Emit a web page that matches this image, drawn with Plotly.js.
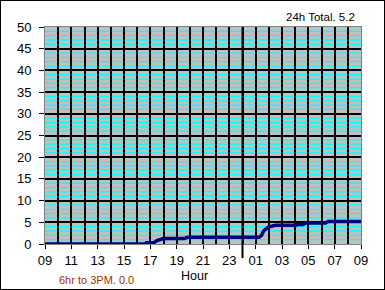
<!DOCTYPE html>
<html>
<head>
<meta charset="utf-8">
<script src="https://cdn.plot.ly/plotly-3.0.1.min.js"></script>
<style>
  html, body { margin: 0; padding: 0; background: #fff; }
  #chart { width: 383px; height: 288px; border: 1px solid #000; }
</style>
</head>
<body>
<div id="chart"></div>
<script>
// Hours since 09:00 and cumulative rainfall
var hours = [0, 7.6, 7.7, 8.3, 8.5, 8.8, 9.0, 10.6, 10.8, 16.25, 16.45, 16.6, 16.8, 16.95, 17.2, 17.5, 19.05, 19.2, 19.6, 19.8, 21.3, 21.5, 24];
var rain  = [0, 0, 0.3, 0.35, 0.8, 1.1, 1.25, 1.25, 1.55, 1.55, 2.0, 3.0, 3.5, 3.9, 4.1, 4.3, 4.3, 4.5, 4.5, 4.85, 4.85, 5.2, 5.2];

var tickHours  = [0, 2, 4, 6, 8, 10, 12, 14, 16, 18, 20, 22, 24];
var tickLabels = ["09", "11", "13", "15", "17", "19", "21", "23", "01", "03", "05", "07", "09"];
var midnightHour = 15;
var totalText = "24h Total. 5.2";
var sixHrText = "6hr to 3PM. 0.0";

var font = "Liberation Sans, Arial, sans-serif";

var shapes = [];
for (var v = 1; v < 50; v++) {
  if (v % 5 === 0) continue;
  shapes.push({type: 'line', layer: 'below', xref: 'paper', x0: 0, x1: 1, yref: 'y', y0: v, y1: v,
               line: {color: '#00FFFF', width: 1.3}});
}
shapes.push({type: 'line', layer: 'above', xref: 'x', x0: midnightHour, x1: midnightHour,
             yref: 'paper', y0: -0.065, y1: 1, line: {color: '#000', width: 2}});

var trace = {
  x: hours, y: rain, type: 'scatter', mode: 'lines',
  line: {color: '#000080', width: 3.5}, hoverinfo: 'skip'
};

var layout = {
  width: 383, height: 288,
  margin: {l: 44, r: 23, t: 26, b: 45},
  paper_bgcolor: '#fff', plot_bgcolor: '#C0C0C0',
  showlegend: false,
  font: {family: font, size: 13, color: '#000'},
  xaxis: {
    range: [0, 24], tickmode: 'array', tickvals: tickHours, ticktext: tickLabels,
    showgrid: true, gridcolor: '#000', gridwidth: 2,
    minor: {tickmode: 'linear', tick0: 0, dtick: 1, showgrid: true, gridcolor: '#000', gridwidth: 2, ticks: ''},
    ticks: 'outside', ticklen: 4, tickcolor: '#000', tickwidth: 1,
    showline: true, linecolor: '#808080', linewidth: 1, mirror: true,
    zeroline: false, fixedrange: true,
    tickfont: {family: font, size: 13, color: '#000'}
  },
  yaxis: {
    range: [0, 50], tickmode: 'linear', tick0: 0, dtick: 5,
    showgrid: true, gridcolor: '#000', gridwidth: 2,
    ticks: 'outside', ticklen: 5, tickcolor: '#000', tickwidth: 1, ticklabelstandoff: 5,
    showline: true, linecolor: '#808080', linewidth: 1, mirror: true,
    zeroline: true, zerolinecolor: '#000', zerolinewidth: 2, fixedrange: true,
    tickfont: {family: font, size: 13, color: '#000'}
  },
  shapes: shapes,
  annotations: [
    {text: totalText, xref: 'paper', yref: 'paper', x: 0.987, y: 1.048, xanchor: 'right', yanchor: 'middle',
     showarrow: false, font: {family: font, size: 11.5, color: '#000'}},
    {text: sixHrText, xref: 'paper', yref: 'paper', x: 0.038, y: -0.164, xanchor: 'left', yanchor: 'middle',
     showarrow: false, font: {family: font, size: 11, color: '#993300'}},
    {text: 'Hour', xref: 'paper', yref: 'paper', x: 0.473, y: -0.147, xanchor: 'center', yanchor: 'middle',
     showarrow: false, font: {family: font, size: 12.5, color: '#000'}}
  ]
};

Plotly.newPlot('chart', [trace], layout, {staticPlot: true, displayModeBar: false});
</script>
</body>
</html>
